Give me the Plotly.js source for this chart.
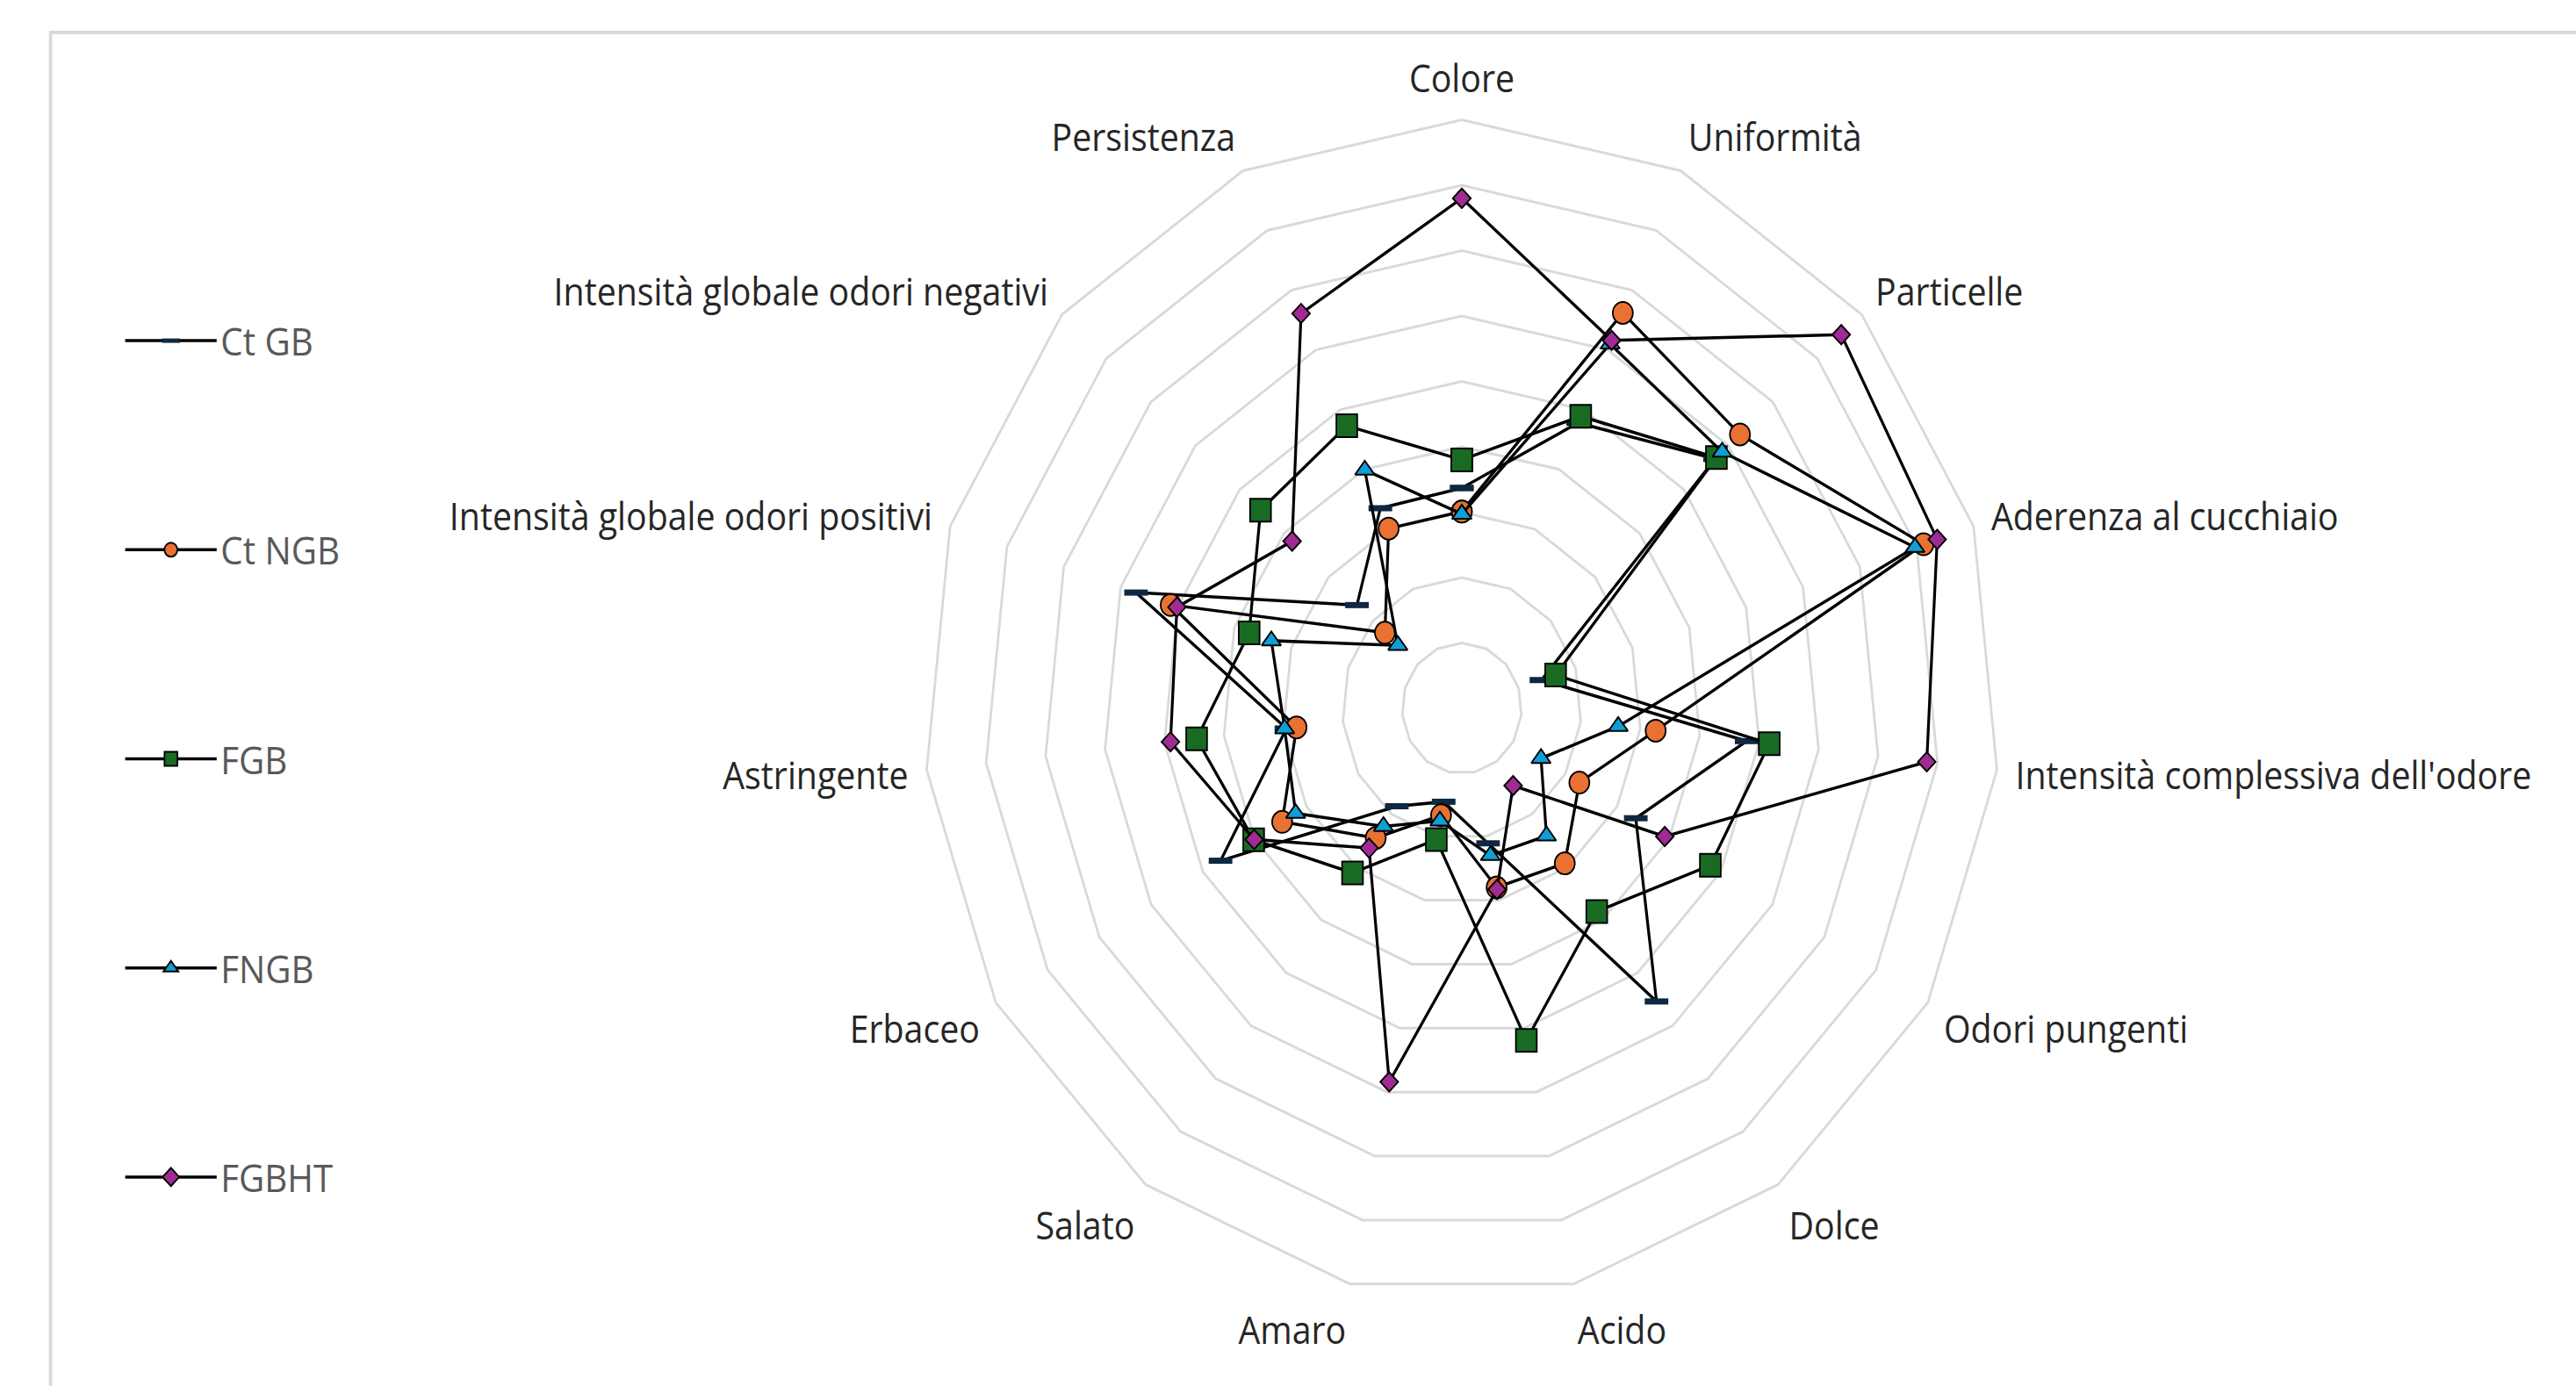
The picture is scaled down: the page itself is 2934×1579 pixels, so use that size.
<!DOCTYPE html>
<html><head><meta charset="utf-8">
<script src="https://cdn.plot.ly/plotly-3.0.1.min.js"></script>
<style>
html,body{margin:0;padding:0;overflow:hidden;background:#fff;width:2934px;height:1579px}
#wrap{width:2934px;height:1579px;overflow:hidden;position:relative}
#chart{width:3210px;height:1579px;transform:scaleX(0.914019);transform-origin:0 0}
</style></head><body><div id="wrap"><div id="chart"></div></div>
<script>
const categories = ["Colore","Uniformità","Particelle","Aderenza al cucchiaio","Intensità complessiva dell'odore","Odori pungenti","Dolce","Acido","Amaro","Salato","Erbaceo","Astringente","Intensità globale odori positivi","Intensità globale odori negativi","Persistenza"];
const seriesNames = ["Ct GB","Ct NGB","FGB","FNGB","FGBHT"];
const ctGB  = [3.37, 4.78, 5.70, 1.40, 4.79, 3.36, 5.54, 2.11, 1.46, 1.85, 4.66, 2.95, 5.73, 2.36, 3.35];
const ctNGB = [3.01, 6.62, 6.26, 8.12, 3.26, 2.27, 2.93, 2.80, 1.67, 2.45, 3.47, 2.78, 5.12, 1.73, 3.01];
const fGB   = [3.80, 4.89, 5.73, 1.65, 5.17, 4.80, 3.84, 5.19, 2.05, 3.11, 4.02, 4.46, 3.74, 4.53, 4.73];
const fNGB  = [2.97, 6.10, 5.86, 7.97, 2.63, 1.53, 2.41, 2.30, 1.76, 2.23, 3.21, 2.98, 3.35, 1.44, 3.99];
const fGBHT = [7.80, 6.16, 8.54, 8.36, 7.82, 3.92, 1.46, 2.83, 5.84, 2.64, 4.01, 4.90, 5.01, 3.82, 6.61];

const W = 3210, H = 1579;
const FONT = "Open Sans";
const styles = [
  {symbol:'line-ew', size:21, color:'#0E2841', line:{color:'#0E2841', width:7}},
  {symbol:'circle', size:25, color:'#E97132', line:{color:'#000', width:2}},
  {symbol:'square', size:26, color:'#196B24', line:{color:'#000', width:2}},
  {symbol:'triangle-up', size:21, color:'#0F9ED5', line:{color:'#000', width:2}},
  {symbol:'diamond', size:17, color:'#A02B93', line:{color:'#000', width:2}}
];
const allSeries = [ctGB, ctNGB, fGB, fNGB, fGBHT];
const close = a => a.concat([a[0]]);
const traces = allSeries.map((vals, i) => ({
  type:'scatterpolar', mode:'lines+markers', name:seriesNames[i],
  r: close(vals), theta: close(categories),
  line:{color:'#000', width:3.5},
  marker: styles[i],
  legendgroup: 'g'+i,
  cliponaxis:false
}));

const layout = {
  width:W, height:H,
  margin:{l:0,r:0,t:0,b:0},
  paper_bgcolor:'#fff', plot_bgcolor:'#fff',
  font:{family:FONT, size:43, color:'#262626'},
  showlegend:true,
  legend:{x:151/W, y:1-353/H, xanchor:'left', yanchor:'top', tracegroupgap:178,
          itemwidth:114, font:{family:FONT, size:44, color:'#595959'}, bgcolor:'rgba(0,0,0,0)'},
  polar:{
    domain:{x:[(1821.6-670.5)/W, (1821.6+670.5)/W], y:[(H-807-670.5)/H, (H-807+670.5)/H]},
    bgcolor:'rgba(0,0,0,0)',
    gridshape:'linear',
    radialaxis:{range:[0,9], dtick:1, tick0:0, showticklabels:false, ticks:'', showline:false,
                gridcolor:'#d9d9d9', gridwidth:3},
    angularaxis:{type:'category', direction:'clockwise', rotation:90, showgrid:false,
                 showline:true, linecolor:'#d9d9d9', linewidth:3, ticks:'outside', ticklen:13,
                 tickcolor:'rgba(0,0,0,0)', tickfont:{family:FONT, size:43, color:'#262626'}}
  },
  shapes:[{type:'rect', xref:'paper', yref:'paper', x0:63/W, x1:1.05, y0:-0.05, y1:1-37/H,
           line:{color:'#d9d9d9', width:4}, fillcolor:'rgba(0,0,0,0)'}]
};
Plotly.newPlot('chart', traces, layout, {displayModeBar:false, staticPlot:true});
</script></body></html>
